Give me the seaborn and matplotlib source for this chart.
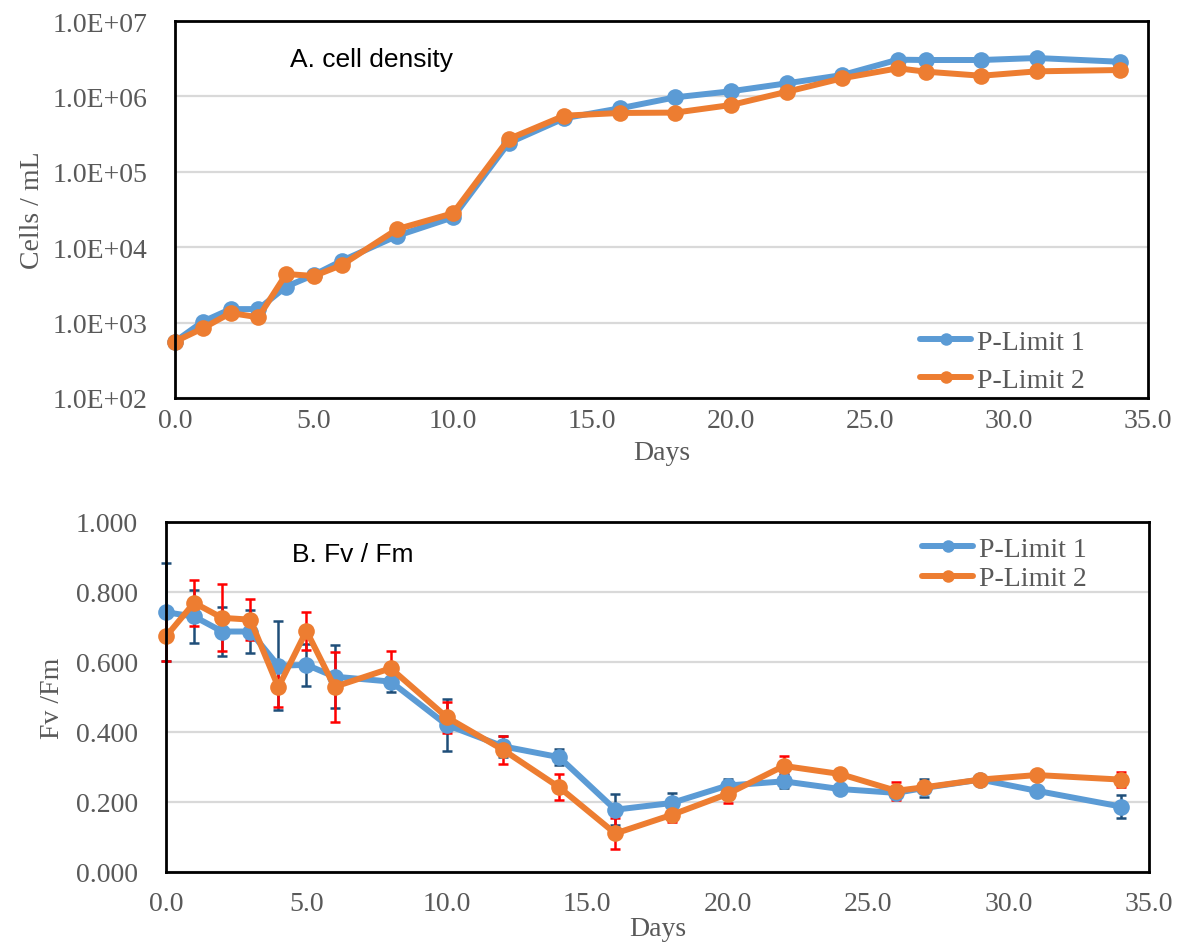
import numpy as np
import pandas as pd
import matplotlib
matplotlib.use("Agg")
import matplotlib.pyplot as plt
import seaborn as sns
from matplotlib.ticker import FuncFormatter, FixedLocator, NullLocator
from matplotlib.lines import Line2D

# ---------------- data ----------------
days = [0, 1, 2, 3, 4, 5, 6, 8, 10, 12, 14, 16, 18, 20, 22, 24, 26, 27, 29, 31, 34]
series_names = ["P-Limit 1", "P-Limit 2"]

cells_p1 = [560, 1030, 1510, 1510, 3000, 4300, 6600, 14200, 24900, 241000, 513000,
            695000, 973000, 1170000, 1490000, 1920000, 3070000, 3040000, 3040000,
            3230000, 2880000]
cells_p2 = [560, 840, 1340, 1175, 4410, 4150, 5800, 17400, 28200, 272000, 555000,
            603000, 610000, 769000, 1150000, 1740000, 2360000, 2130000, 1880000,
            2150000, 2240000]

fvfm_p1 = [0.742, 0.730, 0.687, 0.687, 0.589, 0.592, 0.558, 0.544, 0.420, 0.359, 0.328,
           0.178, 0.197, 0.247, 0.259, 0.237, 0.226, 0.240, 0.264, 0.232, 0.187]
fvfm_p2 = [0.673, 0.769, 0.726, 0.721, 0.528, 0.689, 0.529, 0.582, 0.442, 0.349, 0.242,
           0.110, 0.163, 0.223, 0.303, 0.280, 0.232, 0.242, 0.264, 0.277, 0.264]
err_p1 = [0.140, 0.077, 0.071, 0.062, 0.127, 0.060, 0.090, 0.030, 0.075, 0.030, 0.023,
          0.045, 0.030, 0.020, 0.020, 0.010, 0.012, 0.026, 0.010, 0.010, 0.033]
err_p2 = [0.070, 0.065, 0.096, 0.058, 0.058, 0.055, 0.100, 0.050, 0.045, 0.040, 0.037,
          0.044, 0.020, 0.026, 0.027, 0.010, 0.026, 0.010, 0.010, 0.015, 0.022]

x_ticks = [0, 5, 10, 15, 20, 25, 30, 35]
cell_ticks = [1e2, 1e3, 1e4, 1e5, 1e6, 1e7]
fv_ticks = [0.0, 0.2, 0.4, 0.6, 0.8, 1.0]

# ---------------- style ----------------
line_colors = {"P-Limit 1": "#5b9bd5", "P-Limit 2": "#ed7d31"}
err_colors = {"P-Limit 1": "#1f4e79", "P-Limit 2": "#ff0000"}
text_gray = "#595959"

sns.set_theme(style="white")
plt.rcParams["font.family"] = ["Liberation Serif", "DejaVu Serif"]

df_cells = pd.DataFrame({
    "Days": days * 2,
    "Value": cells_p1 + cells_p2,
    "Series": [series_names[0]] * len(days) + [series_names[1]] * len(days),
})
df_fv = pd.DataFrame({
    "Days": days * 2,
    "Value": fvfm_p1 + fvfm_p2,
    "Err": err_p1 + err_p2,
    "Series": [series_names[0]] * len(days) + [series_names[1]] * len(days),
})

fig = plt.figure(figsize=(11.84, 9.45), dpi=100)
ax1 = fig.add_axes([0.1478, 0.5778, 0.8218, 0.3989])
ax2 = fig.add_axes([0.1402, 0.0762, 0.8302, 0.3704])

LW = 4.3
MS = 12

# ---- panel A ----
sns.lineplot(data=df_cells, x="Days", y="Value", hue="Series", palette=line_colors,
             marker="o", markersize=MS, markeredgewidth=0, linewidth=LW,
             estimator=None, sort=False, legend=False, ax=ax1, zorder=3)
ax1.set_yscale("log")
ax1.set_ylim(1e2, 1e7)
ax1.yaxis.set_major_locator(FixedLocator(cell_ticks))
ax1.yaxis.set_minor_locator(NullLocator())
ax1.yaxis.set_major_formatter(FuncFormatter(lambda v, p: f"{v:.1E}"))
ax1.set_ylabel("Cells / mL", fontsize=20, color=text_gray, labelpad=5)
ax1.text(0.118, 0.899, "A. cell density", transform=ax1.transAxes,
         fontsize=19, family=["Liberation Sans", "DejaVu Sans"], color="black",
         va="center", ha="left")

# ---- panel B ----
for name in series_names:
    sub = df_fv[df_fv["Series"] == name]
    ax2.errorbar(sub["Days"], sub["Value"], yerr=sub["Err"], fmt="none",
                 ecolor=err_colors[name], elinewidth=1.8, capsize=3.6, capthick=1.8,
                 zorder=2.5, clip_on=False)
sns.lineplot(data=df_fv, x="Days", y="Value", hue="Series", palette=line_colors,
             marker="o", markersize=MS, markeredgewidth=0, linewidth=LW,
             estimator=None, sort=False, legend=False, ax=ax2, zorder=3)
ax2.set_ylim(0, 1.0)
ax2.yaxis.set_major_locator(FixedLocator(fv_ticks))
ax2.yaxis.set_major_formatter(FuncFormatter(lambda v, p: f"{v:.3f}"))
ax2.set_ylabel("Fv /Fm", fontsize=20, color=text_gray, labelpad=8)
ax2.text(0.128, 0.909, "B. Fv / Fm", transform=ax2.transAxes,
         fontsize=19, family=["Liberation Sans", "DejaVu Sans"], color="black",
         va="center", ha="left")

# ---- common formatting ----
for ax, xpad, lpad in ((ax1, 7, 5), (ax2, 14, 0)):
    ax.set_xlim(0, 35)
    ax.xaxis.set_major_locator(FixedLocator(x_ticks))
    ax.xaxis.set_major_formatter(FuncFormatter(lambda v, p: f"{v:.1f}"))
    ax.set_xlabel("Days", fontsize=20, color=text_gray, labelpad=lpad)
    ax.yaxis.grid(True, color="#d9d9d9", linewidth=1.6)
    ax.xaxis.grid(False)
    ax.set_axisbelow(True)
    for s in ax.spines.values():
        s.set_color("black")
        s.set_linewidth(2)
        s.set_zorder(4)
    ax.tick_params(axis="both", length=0, labelsize=20, labelcolor=text_gray)
    ax.tick_params(axis="y", pad=20)
    ax.tick_params(axis="x", pad=xpad)
    for ln in ax.get_lines():
        ln.set_clip_on(False)

handles = [Line2D([0], [0], color=line_colors[n], lw=LW, marker="o", markersize=9,
                  markeredgewidth=0) for n in series_names]

ax1.legend(handles, series_names, loc="center left", bbox_to_anchor=(0.7657, 0.098),
           frameon=False, fontsize=20, handlelength=1.85, handletextpad=0.2,
           labelspacing=0.45, borderpad=0, borderaxespad=0, labelcolor=text_gray)
ax2.legend(handles, series_names, loc="center left", bbox_to_anchor=(0.769, 0.88),
           frameon=False, fontsize=20, handlelength=1.85, handletextpad=0.2,
           labelspacing=0.15, borderpad=0, borderaxespad=0, labelcolor=text_gray)

fig.savefig("out.png", dpi=100)
